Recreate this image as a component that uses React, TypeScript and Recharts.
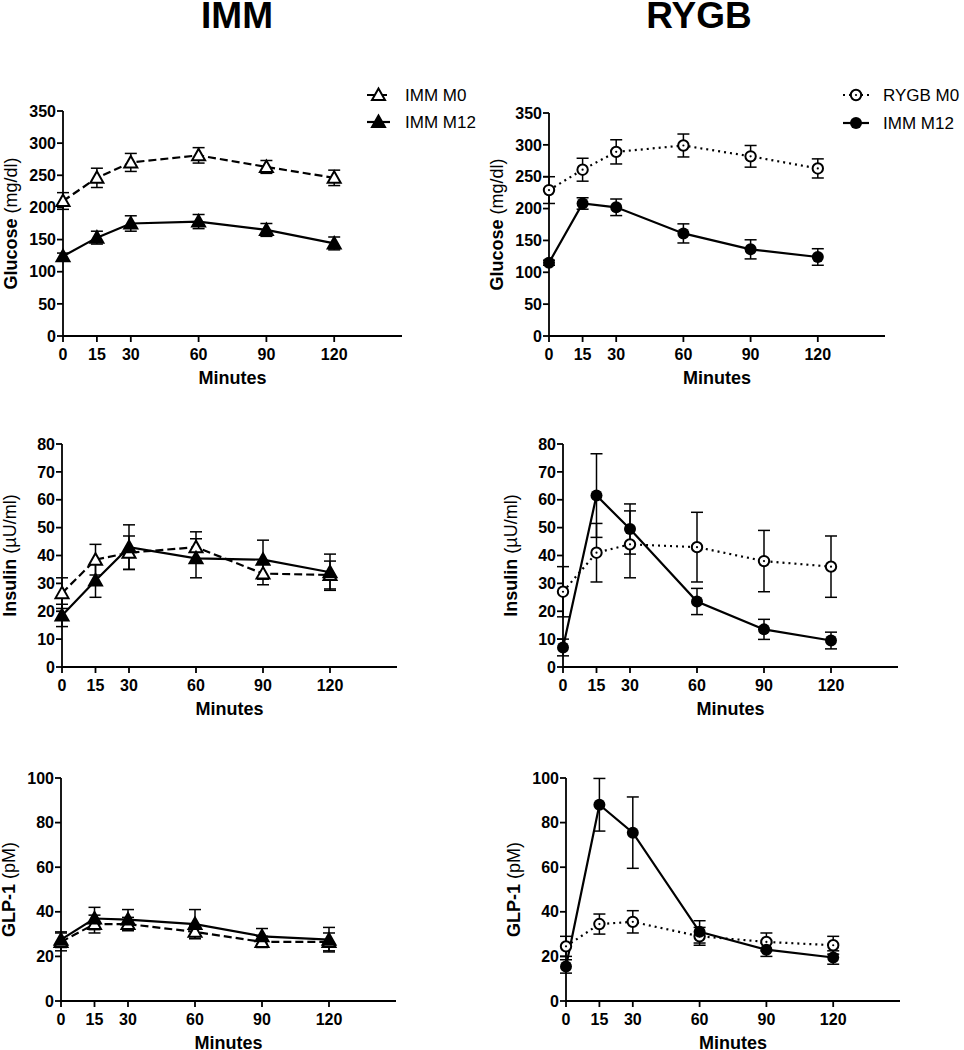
import React from 'react'
import { ComposedChart, Line, XAxis, YAxis, ErrorBar, Label } from 'recharts'

// sampling times (min)
const MINUTES = [0, 15, 30, 60, 90, 120]

// glucose (mg/dl), mean and SEM
const IMM_GLU_M0 = [210, 246, 270, 281, 263, 246]
const IMM_GLU_M0_SEM = [13, 15, 14, 12, 10, 12]
const IMM_GLU_M12 = [124, 153, 175, 178, 165, 144]
const IMM_GLU_M12_SEM = [5, 10, 12, 11, 10, 10]
const RYGB_GLU_M0 = [229, 261, 289, 299, 282, 263]
const RYGB_GLU_M0_SEM = [21, 18, 19, 18, 17, 15]
const RYGB_GLU_M12 = [115, 208, 202, 161, 136, 124]
const RYGB_GLU_M12_SEM = [4, 9, 13, 15, 15, 13]

// insulin (µU/ml)
const IMM_INS_M0 = [26.5, 38.5, 41, 43, 33.5, 33]
const IMM_INS_M0_SEM = [5.5, 5.5, 6, 5.5, 4, 5]
const IMM_INS_M12 = [18.5, 31, 43, 39, 38.5, 34]
const IMM_INS_M12_SEM = [4, 6, 8, 7, 7, 6.5]
const RYGB_INS_M0 = [27, 41, 44, 43, 38, 36]
const RYGB_INS_M0_SEM = [9, 10.5, 12, 12.5, 11, 11]
const RYGB_INS_M12 = [7, 61.5, 49.5, 23.5, 13.5, 9.5]
const RYGB_INS_M12_SEM = [3, 15, 9, 4.7, 3.6, 3]

// GLP-1 (pM)
const IMM_GLP_M0 = [26.5, 34.5, 34.5, 31, 26.5, 26.5]
const IMM_GLP_M0_SEM = [4, 4, 3, 3, 2.5, 4]
const IMM_GLP_M12 = [27.5, 37, 36.5, 34.5, 29, 27.5]
const IMM_GLP_M12_SEM = [3.5, 5, 4.5, 6.5, 3.5, 5.5]
const RYGB_GLP_M0 = [24.5, 34.5, 35.5, 29, 26.5, 25]
const RYGB_GLP_M0_SEM = [4.5, 4.5, 5, 4, 4, 4]
const RYGB_GLP_M12 = [15.5, 88, 75.5, 31, 23, 19.5]
const RYGB_GLP_M12_SEM = [3, 11.8, 16, 5, 3, 3]

const GLU_TICKS = [0, 50, 100, 150, 200, 250, 300, 350]
const INS_TICKS = [0, 10, 20, 30, 40, 50, 60, 70, 80]
const GLP_TICKS = [0, 20, 40, 60, 80, 100]

const FONT = '"Liberation Sans", Arial, Helvetica, sans-serif'
const YW = 70
const MT = 15
const MR = 15
const MB = 60

const DASHED = '8 4'
const DOTTED = '2 4'

type Kind = 'triOpen' | 'triFilled' | 'circOpen' | 'circFilled'

function buildRows(m0: number[], m0e: number[], m12: number[], m12e: number[]) {
  return MINUTES.map((min, i) => ({ min, m0: m0[i], m0e: m0e[i], m12: m12[i], m12e: m12e[i] }))
}

function Marker({ cx, cy, kind }: { cx: number; cy: number; kind: Kind }) {
  if (kind === 'triOpen' || kind === 'triFilled') {
    const pts = `${cx},${cy - 6.5} ${cx - 6.5},${cy + 5} ${cx + 6.5},${cy + 5}`
    return (
      <polygon
        points={pts}
        fill={kind === 'triOpen' ? '#fff' : '#000'}
        stroke="#000"
        strokeWidth={2}
        strokeLinejoin="miter"
      />
    )
  }
  if (kind === 'circOpen') {
    return (
      <g>
        <circle cx={cx} cy={cy} r={5.2} fill="#fff" stroke="#000" strokeWidth={2} />
        <circle cx={cx} cy={cy} r={1.1} fill="#000" />
      </g>
    )
  }
  return <circle cx={cx} cy={cy} r={6} fill="#000" />
}

const dotFor = (kind: Kind) => (p: any) =>
  p.cx == null ? <g key={p.index} /> : <Marker key={p.index} cx={p.cx} cy={p.cy} kind={kind} />

interface PanelProps {
  left: number
  top: number
  plotW: number
  plotH: number
  rows: any[]
  yMax: number
  yTicks: number[]
  yName: string
  yUnit: string
  group: 'imm' | 'rygb'
}

function Panel({ left, top, plotW, plotH, rows, yMax, yTicks, yName, yUnit, group }: PanelProps) {
  const width = YW + plotW + MR
  const height = MT + plotH + MB
  const open: Kind = group === 'imm' ? 'triOpen' : 'circOpen'
  const filled: Kind = group === 'imm' ? 'triFilled' : 'circFilled'
  const dash = group === 'imm' ? DASHED : DOTTED
  const tick = { fill: '#000', fontSize: 16, fontWeight: 'bold', fontFamily: FONT }
  const axisStyle = { stroke: '#000', strokeWidth: 1.8 }
  const lx = YW - 52
  const ly = MT + plotH / 2

  return (
    <div style={{ position: 'absolute', left: left - YW, top: top - MT }}>
      <ComposedChart width={width} height={height} data={rows} margin={{ top: MT, right: MR, left: 0, bottom: 0 }}>
        <XAxis
          type="number"
          dataKey="min"
          domain={[0, 150]}
          ticks={MINUTES}
          interval={0}
          height={MB}
          tickSize={6}
          tickMargin={7}
          tick={tick}
          axisLine={axisStyle}
          tickLine={axisStyle}
        >
          <Label
            content={() => (
              <text
                x={YW + plotW / 2}
                y={MT + plotH + 42}
                textAnchor="middle"
                dominantBaseline="central"
                fontSize={18}
                fontWeight="bold"
                fontFamily={FONT}
                fill="#000"
              >
                Minutes
              </text>
            )}
          />
        </XAxis>
        <YAxis
          type="number"
          domain={[0, yMax]}
          ticks={yTicks}
          interval={0}
          width={YW}
          tickSize={6}
          tickMargin={1}
          tick={tick}
          axisLine={axisStyle}
          tickLine={axisStyle}
        >
          <Label
            content={() => (
              <text
                x={lx}
                y={ly}
                transform={`rotate(-90 ${lx} ${ly})`}
                textAnchor="middle"
                dominantBaseline="central"
                fontSize={18}
                fontFamily={FONT}
                fill="#000"
              >
                <tspan fontWeight="bold">{yName}</tspan>
                <tspan> {yUnit}</tspan>
              </text>
            )}
          />
        </YAxis>
        <Line
          dataKey="m0"
          stroke="#000"
          strokeWidth={2.2}
          strokeDasharray={dash}
          dot={dotFor(open)}
          activeDot={false}
          isAnimationActive={false}
        >
          <ErrorBar dataKey="m0e" direction="y" width={6} stroke="#000" strokeWidth={1.5} />
        </Line>
        <Line
          dataKey="m12"
          stroke="#000"
          strokeWidth={2.2}
          dot={dotFor(filled)}
          activeDot={false}
          isAnimationActive={false}
        >
          <ErrorBar dataKey="m12e" direction="y" width={6} stroke="#000" strokeWidth={1.5} />
        </Line>
      </ComposedChart>
    </div>
  )
}

function LegendRow({ x1, x2, tx, y, kind, dash, label }: { x1: number; x2: number; tx: number; y: number; kind: Kind; dash?: string; label: string }) {
  return (
    <g>
      <line x1={x1} x2={x2} y1={y} y2={y} stroke="#000" strokeWidth={2.2} strokeDasharray={dash} />
      <Marker cx={(x1 + x2) / 2} cy={y} kind={kind} />
      <text x={tx} y={y} dominantBaseline="central" fontSize={17} fontFamily={FONT} fill="#000">
        {label}
      </text>
    </g>
  )
}

export default function App() {
  return (
    <div style={{ position: 'absolute', left: 0, top: 0, width: 964, height: 1050, background: '#fff', fontFamily: FONT }}>
      <Panel left={63} top={111} plotW={339} plotH={225} group="imm"
        rows={buildRows(IMM_GLU_M0, IMM_GLU_M0_SEM, IMM_GLU_M12, IMM_GLU_M12_SEM)}
        yMax={350} yTicks={GLU_TICKS} yName="Glucose" yUnit="(mg/dl)" />
      <Panel left={549} top={113} plotW={336} plotH={223} group="rygb"
        rows={buildRows(RYGB_GLU_M0, RYGB_GLU_M0_SEM, RYGB_GLU_M12, RYGB_GLU_M12_SEM)}
        yMax={350} yTicks={GLU_TICKS} yName="Glucose" yUnit="(mg/dl)" />
      <Panel left={62} top={444} plotW={335} plotH={223} group="imm"
        rows={buildRows(IMM_INS_M0, IMM_INS_M0_SEM, IMM_INS_M12, IMM_INS_M12_SEM)}
        yMax={80} yTicks={INS_TICKS} yName="Insulin" yUnit="(µU/ml)" />
      <Panel left={563} top={444} plotW={335} plotH={223} group="rygb"
        rows={buildRows(RYGB_INS_M0, RYGB_INS_M0_SEM, RYGB_INS_M12, RYGB_INS_M12_SEM)}
        yMax={80} yTicks={INS_TICKS} yName="Insulin" yUnit="(µU/ml)" />
      <Panel left={61} top={778} plotW={335} plotH={223} group="imm"
        rows={buildRows(IMM_GLP_M0, IMM_GLP_M0_SEM, IMM_GLP_M12, IMM_GLP_M12_SEM)}
        yMax={100} yTicks={GLP_TICKS} yName="GLP-1" yUnit="(pM)" />
      <Panel left={566} top={778} plotW={334} plotH={223} group="rygb"
        rows={buildRows(RYGB_GLP_M0, RYGB_GLP_M0_SEM, RYGB_GLP_M12, RYGB_GLP_M12_SEM)}
        yMax={100} yTicks={GLP_TICKS} yName="GLP-1" yUnit="(pM)" />

      <svg width={964} height={1050} style={{ position: 'absolute', left: 0, top: 0, pointerEvents: 'none' }}>
        <text x={237} y={28} textAnchor="middle" fontSize={37} fontWeight="bold" fontFamily={FONT}>IMM</text>
        <text x={699} y={28} textAnchor="middle" fontSize={37} fontWeight="bold" fontFamily={FONT}>RYGB</text>
        <LegendRow x1={367} x2={390} tx={405} y={95} kind="triOpen" dash={DASHED} label="IMM M0" />
        <LegendRow x1={367} x2={390} tx={405} y={122} kind="triFilled" label="IMM M12" />
        <LegendRow x1={843} x2={869} tx={883} y={95} kind="circOpen" dash={DOTTED} label="RYGB M0" />
        <LegendRow x1={843} x2={869} tx={883} y={123} kind="circFilled" label="IMM M12" />
      </svg>
    </div>
  )
}
